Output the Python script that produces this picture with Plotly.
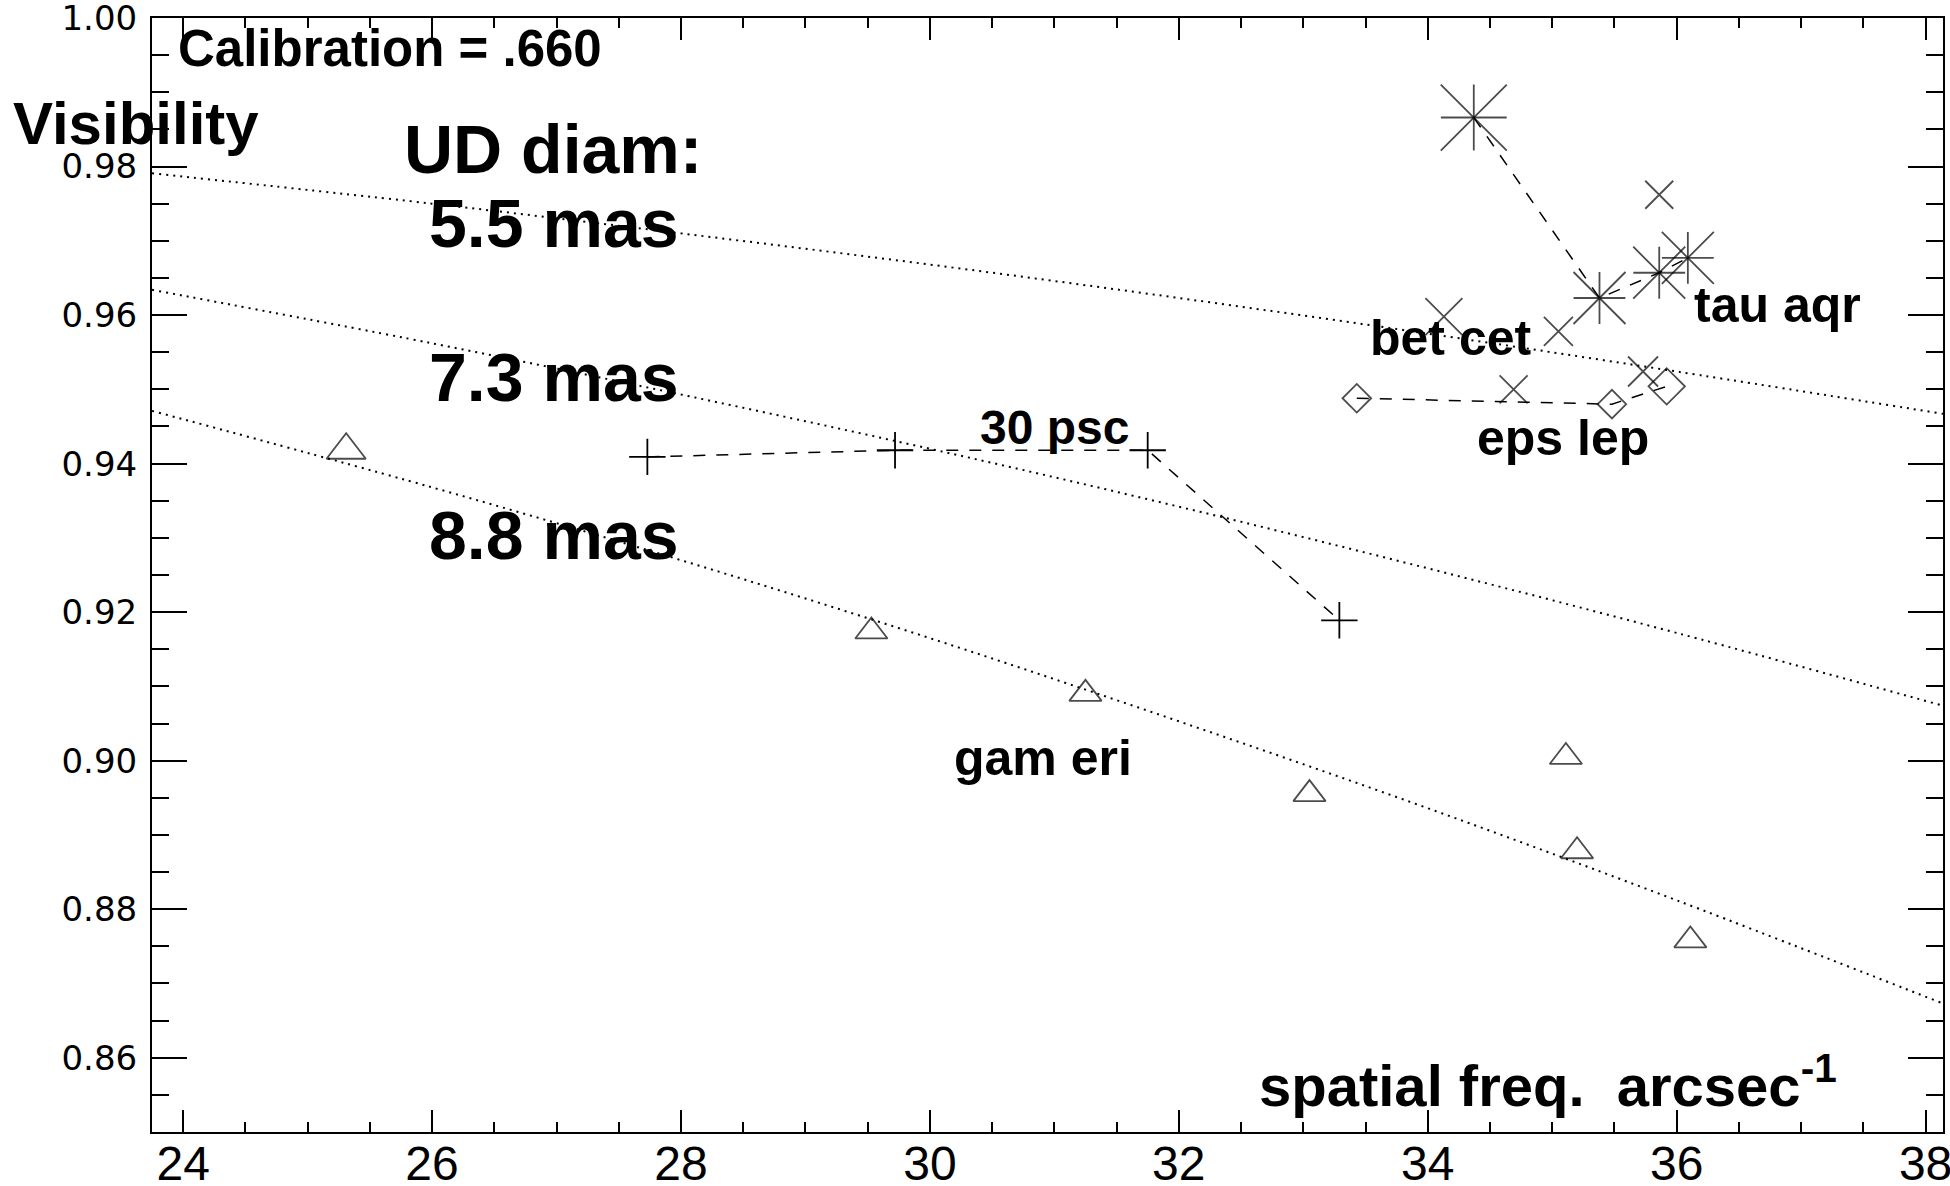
import plotly.graph_objects as go

# uniform-disk model curves
ud_x = [23.75, 26, 28, 30, 32, 34, 36, 38.14]
ud_55 = [0.9791, 0.9750, 0.9710, 0.9668, 0.9623, 0.9575, 0.9524, 0.9467]
ud_73 = [0.9634, 0.9562, 0.9493, 0.9420, 0.9342, 0.9259, 0.9172, 0.9074]
ud_88 = [0.9471, 0.9368, 0.9270, 0.9165, 0.9053, 0.8936, 0.8812, 0.8673]

# gam eri (triangles)
gam_x = [25.31, 29.53, 31.25, 33.05, 35.11, 35.20, 36.11]
gam_y = [0.9418, 0.9174, 0.9090, 0.8955, 0.9005, 0.8878, 0.8758]

# 30 psc (plus)
psc_x = [27.73, 29.72, 31.75, 33.29]
psc_y = [0.9409, 0.9418, 0.9418, 0.9189]

# tau aqr (asterisks)
tau_x = [34.37, 35.38, 35.86, 36.09]
tau_y = [0.9866, 0.9623, 0.9657, 0.9677]

# bet cet (x)
bet_x = [34.13, 35.05, 34.69, 35.73, 35.86]
bet_y = [0.9598, 0.9578, 0.9500, 0.9524, 0.9762]

# eps lep (diamonds)
eps_x = [33.43, 35.48, 35.92]
eps_y = [0.9488, 0.9480, 0.9504]

# axis ticks
x_ticks = [24, 26, 28, 30, 32, 34, 36, 38]
y_ticks = [0.86, 0.88, 0.90, 0.92, 0.94, 0.96, 0.98, 1.00]
y_labels = ["0.86", "0.88", "0.90", "0.92", "0.94", "0.96", "0.98", "1.00"]

INK = "black"
DOT = dict(color=INK, width=2, dash="2px,5px")
DASH = dict(color=INK, width=1.5, dash="12px,11px")

fig = go.Figure()

for ud in [ud_55, ud_73, ud_88]:
    fig.add_trace(go.Scatter(x=ud_x, y=ud, mode="lines", line=DOT, line_shape="spline"))

fig.add_trace(go.Scatter(
    x=gam_x, y=gam_y, mode="markers",
    marker=dict(symbol="triangle-up-open", size=[34, 28, 28, 28, 28, 28, 28],
                color=INK, line=dict(color=INK, width=1.8))))

fig.add_trace(go.Scatter(
    x=psc_x, y=psc_y, mode="lines+markers", line=DASH,
    marker=dict(symbol="cross-thin-open", size=26, color=INK, line=dict(color=INK, width=1.8))))

fig.add_trace(go.Scatter(
    x=eps_x, y=eps_y, mode="lines+markers", line=DASH,
    marker=dict(symbol="diamond-open", size=[22, 22, 28], color=INK, line=dict(color=INK, width=1.8))))

fig.add_trace(go.Scatter(
    x=bet_x, y=bet_y, mode="markers",
    marker=dict(symbol="x-thin-open", size=[37, 29, 28, 30, 28], color=INK, line=dict(color=INK, width=1.8))))

# IDL-style asterisk = plus + x of the same span
fig.add_trace(go.Scatter(
    x=tau_x, y=tau_y, mode="lines+markers", line=DASH,
    marker=dict(symbol="cross-thin-open", size=[47, 37, 37, 37], color=INK, line=dict(color=INK, width=1.8))))
fig.add_trace(go.Scatter(
    x=tau_x, y=tau_y, mode="markers",
    marker=dict(symbol="x-thin-open", size=[66, 52, 52, 52], color=INK, line=dict(color=INK, width=1.8))))

BOLD = "Liberation Sans, Arial, sans-serif"


def label(text, x, y, size, xref="x"):
    fig.add_annotation(text=text, x=x, y=y, xref=xref, yref="y", xanchor="left", yanchor="middle",
                       showarrow=False, font=dict(family=BOLD, size=size, color=INK, weight="bold"))


label("Calibration = .660", 23.94, 0.9959, 51)
label("Visibility", -0.079, 0.9858, 60, xref="paper")
label("UD diam:", 25.76, 0.9824, 68)
label("5.5 mas", 25.96, 0.9724, 68)
label("7.3 mas", 25.96, 0.9517, 68)
label("8.8 mas", 25.96, 0.9304, 68)
label("30 psc", 30.39, 0.9448, 48)
label("bet cet", 33.52, 0.9569, 50)
label("tau aqr", 36.12, 0.9613, 50)
label("eps lep", 34.38, 0.9434, 50)
label("gam eri", 30.18, 0.9003, 50)
label("spatial freq.\u00a0 arcsec<sup>-1</sup>", 32.63, 0.8568, 58)

fig.update_xaxes(
    range=[23.75, 38.14], tickmode="array", tickvals=x_ticks,
    ticks="inside", ticklen=22, tickwidth=2, tickcolor=INK,
    minor=dict(dtick=0.5, tick0=24, ticks="inside", ticklen=10, tickwidth=1.5, tickcolor=INK),
    showline=True, linewidth=2, linecolor=INK, mirror="allticks",
    showgrid=False, zeroline=False, automargin=False,
    ticklabelstandoff=-12, ticklabeloverflow="allow",
    tickfont=dict(family="Liberation Sans Narrow, Liberation Sans, Arial", size=48, color=INK),
)
fig.update_yaxes(
    range=[0.85, 1.0], tickmode="array", tickvals=y_ticks, ticktext=y_labels,
    ticks="inside", ticklen=35, tickwidth=2, tickcolor=INK,
    minor=dict(dtick=0.005, tick0=0.85, ticks="inside", ticklen=17, tickwidth=1.5, tickcolor=INK),
    showline=True, linewidth=2, linecolor=INK, mirror="allticks",
    showgrid=False, zeroline=False, automargin=False,
    ticklabelstandoff=6, ticklabeloverflow="allow",
    tickfont=dict(family="DejaVu Sans", size=34, color=INK),
)
fig.update_layout(
    template="none",
    width=1950, height=1186,
    margin=dict(l=152, r=7, t=18, b=54, autoexpand=False),
    paper_bgcolor="white", plot_bgcolor="white",
    showlegend=False,
)

fig.write_html("out.html", config={"displayModeBar": False},
               post_script="document.body.style.margin='0';")
